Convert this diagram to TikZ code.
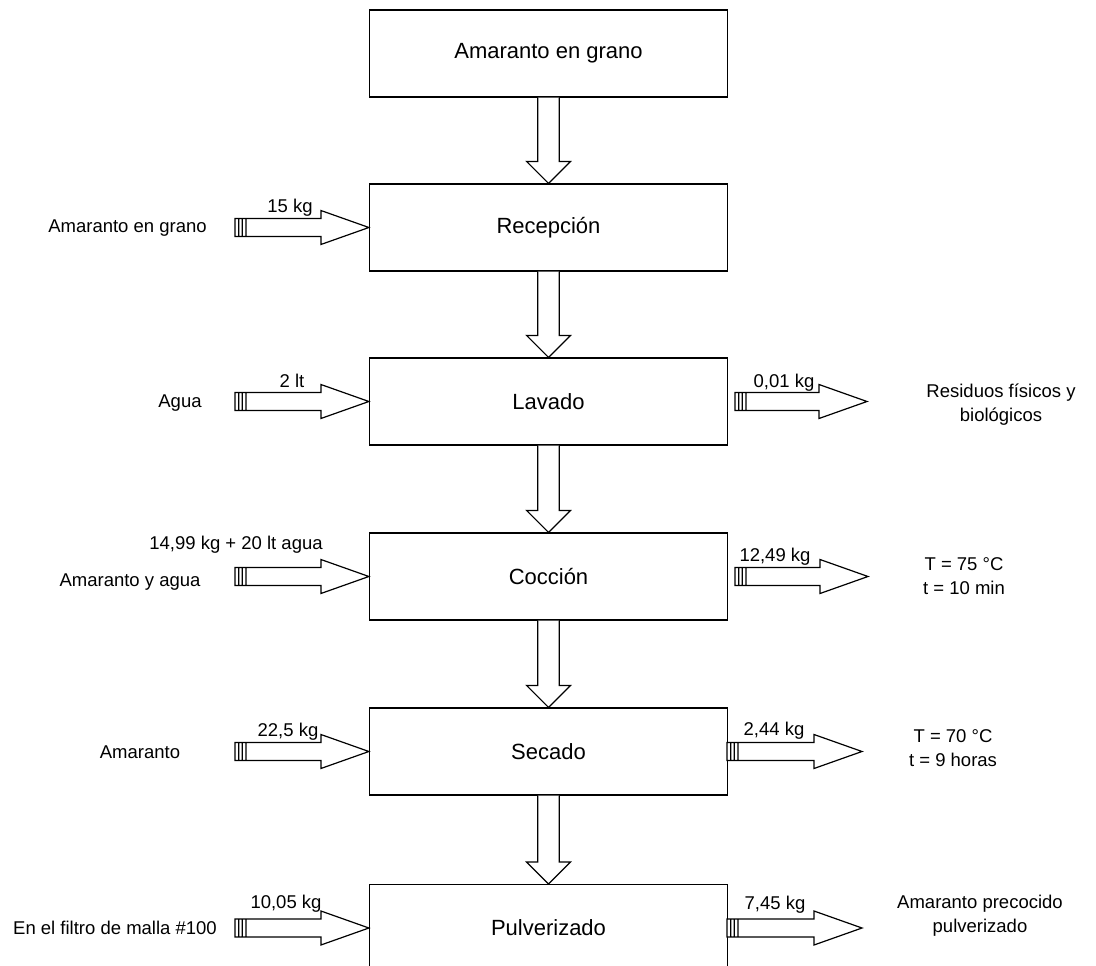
\documentclass[tikz,border=0pt]{standalone}
\usepackage{fontspec}
\setmainfont{Liberation Sans}
\usetikzlibrary{calc}
\tikzset{
 box/.style={draw, line width=1.2pt, minimum width=358pt, minimum height=87pt, inner sep=0pt, font=\fontsize{22}{26}\selectfont},
 lbl/.style={font=\fontsize{18.5}{24}\selectfont, inner sep=0pt, align=center},
 varrow/.style={to path={let \p1=(\tikztostart), \p2=(\tikztotarget) in (\x1-10.7pt,\y1) -- (\x1-10.7pt,\y2+22pt) -- (\x1-22pt,\y2+22pt) -- (\x2,\y2) -- (\x1+22pt,\y2+22pt) -- (\x1+10.7pt,\y2+22pt) -- (\x1+10.7pt,\y1)}},
 harrow/.style={to path={let \p1=(\tikztostart), \p2=(\tikztotarget) in (\x1,\y1+9pt) rectangle (\x1+11pt,\y1-9pt) (\x1+3.7pt,\y1+9pt) -- (\x1+3.7pt,\y1-9pt) (\x1+7.3pt,\y1+9pt) -- (\x1+7.3pt,\y1-9pt) (\x1+11pt,\y1+9pt) -- (\x2-48pt,\y1+9pt) -- (\x2-48pt,\y1+17pt) -- (\x2,\y1) -- (\x2-48pt,\y1-17pt) -- (\x2-48pt,\y1-9pt) -- (\x1+11pt,\y1-9pt)}},
 fat/.style={draw, line width=1.2pt, fill=white, line join=miter}
}
\begin{document}
\begin{tikzpicture}[x=1pt,y=-1pt]
\useasboundingbox (0,0) rectangle (1096,966);
\clip (0,0) rectangle (1096,966);
% boxes
\node[box] (b1) at (548.5,53.5) {Amaranto en grano};
\node[box] (b2) at (548.5,227.5) {Recepción};
\node[box] (b3) at (548.5,401.5) {Lavado};
\node[box] (b4) at (548.5,576.5) {Cocción};
\node[box] (b5) at (548.5,751.5) {Secado};
\node[box] (b6) at (548.5,928) {Pulverizado};
% vertical arrows
\draw[fat] (b1.south) to[varrow] (b2.north);
\draw[fat] (b2.south) to[varrow] (b3.north);
\draw[fat] (b3.south) to[varrow] (b4.north);
\draw[fat] (b4.south) to[varrow] (b5.north);
\draw[fat] (b5.south) to[varrow] (b6.north);
% input arrows
\coordinate (i2) at (235,227.5);
\coordinate (i3) at (235,401.5);
\coordinate (i4) at (235,576.5);
\coordinate (i5) at (235,751.5);
\coordinate (i6) at (235,928);
\draw[fat] (i2) to[harrow] (b2.west);
\draw[fat] (i3) to[harrow] (b3.west);
\draw[fat] (i4) to[harrow] (b4.west);
\draw[fat] (i5) to[harrow] (b5.west);
\draw[fat] (i6) to[harrow] (b6.west);
% output arrows
\coordinate (o3) at (735,401.5);  \coordinate (t3) at (867,401.5);
\coordinate (o4) at (735,576.5);  \coordinate (t4) at (868,576.5);
\coordinate (o5) at (727,751.5);  \coordinate (t5) at (862,751.5);
\coordinate (o6) at (727,928);    \coordinate (t6) at (862,928);
\draw[fat] (o3) to[harrow] (t3);
\draw[fat] (o4) to[harrow] (t4);
\draw[fat] (o5) to[harrow] (t5);
\draw[fat] (o6) to[harrow] (t6);
% left labels
\node[lbl] (l2) at (127.5,228) {Amaranto en grano};
\node[lbl] (l3) at (180,403) {Agua};
\node[lbl] (l4) at (130,582) {Amaranto y agua};
\node[lbl] (l5) at (140,752) {Amaranto};
\node[lbl] (l6) at (115,928) {En el filtro de malla \#100};
% amounts in
\node[lbl] (a2) at (290,208) {15 kg};
\node[lbl] (a3) at (292,381) {2 lt};
\node[lbl] (a4) at (236,545) {14,99 kg + 20 lt agua};
\node[lbl] (a5) at (288,732) {22,5 kg};
\node[lbl] (a6) at (286,904) {10,05 kg};
% amounts out
\node[lbl] (r3) at (784,383) {0,01 kg};
\node[lbl] (r4) at (775,557) {12,49 kg};
\node[lbl] (r5) at (774,731) {2,44 kg};
\node[lbl] (r6) at (775,905) {7,45 kg};
% right labels
\node[lbl] (d3) at (1001,405) {Residuos físicos y\\biológicos};
\node[lbl] (d4) at (964,576) {T = 75 °C\\t = 10 min};
\node[lbl] (d5) at (953,748) {T = 70 °C\\t = 9 horas};
\node[lbl] (d6) at (980,916) {Amaranto precocido\\pulverizado};
\end{tikzpicture}
\end{document}
